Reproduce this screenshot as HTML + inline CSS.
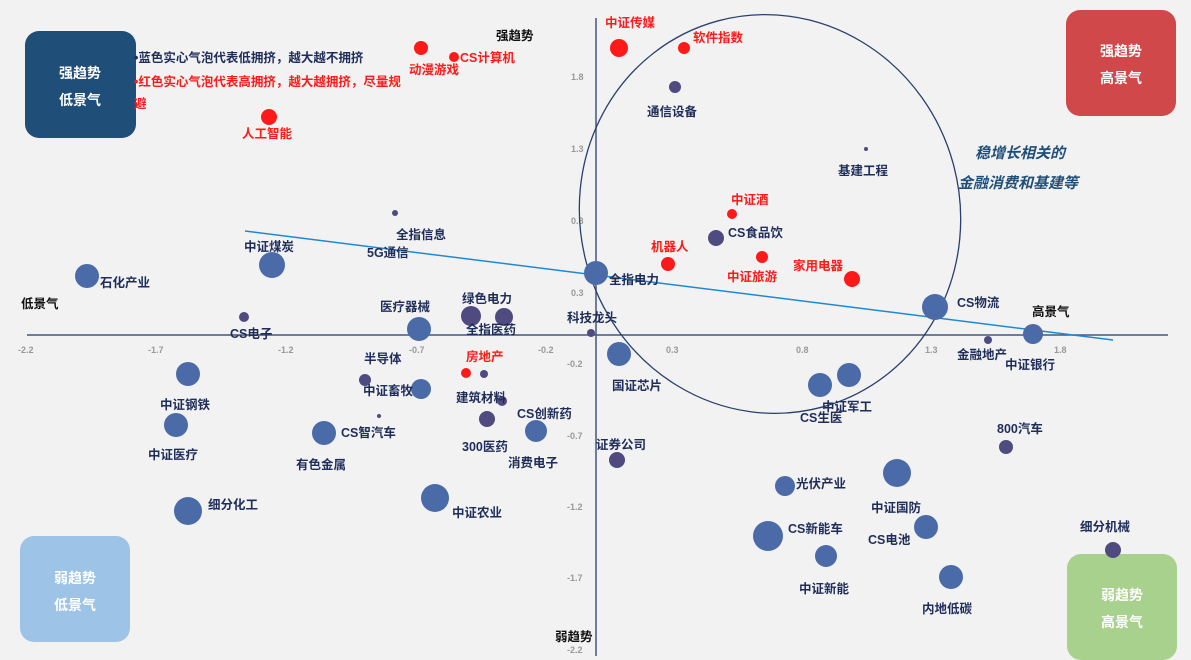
<!DOCTYPE html>
<html><head><meta charset="utf-8"><style>
html,body{margin:0;padding:0;background:#f2f2f2;}
svg{display:block;}
text{font-family:"Liberation Sans","Noto Sans CJK SC",sans-serif;font-weight:bold;}
.l{fill:#1f2d5a;font-size:12.5px;}
.r{fill:#ff1a1a;font-size:12.5px;}
.k{fill:#111;font-size:12.5px;}
.t{fill:#999;font-size:9px;font-weight:normal;}
.b{fill:#4a6aa8;}
.p{fill:#4f4a80;}
.d{fill:#ff1a1a;}
.bx{fill:#fff;font-size:14px;}
</style></head><body>
<svg width="1191" height="660" viewBox="0 0 1191 660" xmlns="http://www.w3.org/2000/svg">
<rect width="1191" height="660" fill="#f2f2f2"/>
<!-- axes -->
<line x1="27" y1="335" x2="1168" y2="335" stroke="#44557f" stroke-width="1.5"/>
<line x1="596" y1="18" x2="596" y2="656" stroke="#44557f" stroke-width="1.5"/>
<!-- ticks -->
<g class="t">
<text x="18" y="353">-2.2</text><text x="148" y="353">-1.7</text><text x="278" y="353">-1.2</text><text x="409" y="353">-0.7</text><text x="538" y="353">-0.2</text><text x="666" y="353">0.3</text><text x="796" y="353">0.8</text><text x="925" y="353">1.3</text><text x="1054" y="353">1.8</text>
<text x="571" y="80">1.8</text><text x="571" y="152">1.3</text><text x="571" y="224">0.8</text><text x="571" y="296">0.3</text><text x="567" y="367">-0.2</text><text x="567" y="439">-0.7</text><text x="567" y="510">-1.2</text><text x="567" y="581">-1.7</text><text x="567" y="653">-2.2</text>
</g>
<!-- ellipse -->
<ellipse cx="770" cy="214" rx="190" ry="200" fill="none" stroke="#2a3f6e" stroke-width="1.3" transform="rotate(-15 770 214)"/>
<!-- trend -->
<line x1="245" y1="231" x2="1113" y2="340" stroke="#1e88d0" stroke-width="1.5"/>
<!-- boxes -->
<rect x="25" y="31" width="111" height="107" rx="14" fill="#1f4e79"/>
<text class="bx" x="80" y="78" text-anchor="middle">强趋势</text><text class="bx" x="80" y="105" text-anchor="middle">低景气</text>
<rect x="1066" y="10" width="110" height="106" rx="14" fill="#d0484a"/>
<text class="bx" x="1121" y="56" text-anchor="middle">强趋势</text><text class="bx" x="1121" y="83" text-anchor="middle">高景气</text>
<rect x="20" y="536" width="110" height="106" rx="14" fill="#9dc3e6"/>
<text class="bx" x="75" y="583" text-anchor="middle">弱趋势</text><text class="bx" x="75" y="610" text-anchor="middle">低景气</text>
<rect x="1067" y="554" width="110" height="106" rx="14" fill="#a9d18e"/>
<text class="bx" x="1122" y="600" text-anchor="middle">弱趋势</text><text class="bx" x="1122" y="627" text-anchor="middle">高景气</text>
<!-- legend -->
<text class="l" x="134" y="62">•蓝色实心气泡代表低拥挤，越大越不拥挤</text>
<text class="r" x="134" y="86">•红色实心气泡代表高拥挤，越大越拥挤，尽量规</text>
<text class="r" x="134" y="108">避</text>
<text style="fill:#1f4e79;font-size:15px;font-style:italic" x="975" y="158">稳增长相关的</text>
<text style="fill:#1f4e79;font-size:15px;font-style:italic" x="958" y="188">金融消费和基建等</text>
<text class="k" x="496" y="40">强趋势</text>
<text class="k" x="21" y="308">低景气</text>
<text class="k" x="1032" y="316">高景气</text>
<text class="k" x="555" y="641">弱趋势</text>
<!-- bubbles -->
<circle class="d" cx="619" cy="48" r="9"/><text class="r" x="605" y="27">中证传媒</text>
<circle class="d" cx="684" cy="48" r="6"/><text class="r" x="693" y="42">软件指数</text>
<circle class="p" cx="675" cy="87" r="6"/><text class="l" x="647" y="116">通信设备</text>
<circle class="p" cx="866" cy="149" r="2"/><text class="l" x="838" y="175">基建工程</text>
<circle class="d" cx="732" cy="214" r="5"/><text class="r" x="731" y="204">中证酒</text>
<circle class="p" cx="716" cy="238" r="8"/><text class="l" x="728" y="237">CS食品饮</text>
<circle class="d" cx="668" cy="264" r="7"/><text class="r" x="651" y="251">机器人</text>
<circle class="d" cx="762" cy="257" r="6"/><text class="r" x="727" y="281">中证旅游</text>
<circle class="d" cx="852" cy="279" r="8"/><text class="r" x="793" y="270">家用电器</text>
<circle class="b" cx="596" cy="273" r="12"/><text class="l" x="609" y="284">全指电力</text>
<circle class="b" cx="935" cy="307" r="13"/><text class="l" x="957" y="307">CS物流</text>
<circle class="p" cx="988" cy="340" r="4"/><text class="l" x="957" y="359">金融地产</text>
<circle class="b" cx="1033" cy="334" r="10"/><text class="l" x="1005" y="369">中证银行</text>
<circle class="p" cx="591" cy="333" r="4"/><text class="l" x="567" y="322">科技龙头</text>
<circle class="b" cx="619" cy="354" r="12"/><text class="l" x="612" y="390">国证芯片</text>
<circle class="b" cx="849" cy="375" r="12"/><circle class="b" cx="820" cy="385" r="12"/>
<text class="l" x="822" y="411">中证军工</text><text class="l" x="800" y="422">CS生医</text>
<circle class="p" cx="617" cy="460" r="8"/><text class="l" x="596" y="449">证券公司</text>
<circle class="p" cx="1006" cy="447" r="7"/><text class="l" x="997" y="433">800汽车</text>
<circle class="b" cx="785" cy="486" r="10"/><text class="l" x="796" y="488">光伏产业</text>
<circle class="b" cx="897" cy="473" r="14"/><text class="l" x="871" y="512">中证国防</text>
<circle class="b" cx="768" cy="536" r="15"/><text class="l" x="788" y="533">CS新能车</text>
<circle class="b" cx="926" cy="527" r="12"/><text class="l" x="868" y="544">CS电池</text>
<circle class="b" cx="826" cy="556" r="11"/><text class="l" x="799" y="593">中证新能</text>
<circle class="b" cx="951" cy="577" r="12"/><text class="l" x="922" y="613">内地低碳</text>
<circle class="p" cx="1113" cy="550" r="8"/><text class="l" x="1080" y="531">细分机械</text>
<circle class="d" cx="421" cy="48" r="7"/><text class="r" x="409" y="74">动漫游戏</text>
<circle class="d" cx="454" cy="57" r="5"/><text class="r" x="460" y="62">CS计算机</text>
<circle class="d" cx="269" cy="117" r="8"/><text class="r" x="242" y="138">人工智能</text>
<circle class="p" cx="395" cy="213" r="3"/><text class="l" x="396" y="239">全指信息</text>
<text class="l" x="367" y="257">5G通信</text>
<circle class="b" cx="272" cy="265" r="13"/><text class="l" x="244" y="251">中证煤炭</text>
<circle class="b" cx="87" cy="276" r="12"/><text class="l" x="100" y="287">石化产业</text>
<circle class="p" cx="244" cy="317" r="5"/><text class="l" x="230" y="338">CS电子</text>
<circle class="b" cx="419" cy="329" r="12"/><text class="l" x="380" y="311">医疗器械</text>
<circle class="p" cx="471" cy="316" r="10"/><circle class="p" cx="504" cy="317" r="9"/>
<text class="l" x="462" y="303">绿色电力</text><text class="l" x="466" y="334">全指医药</text>
<circle class="p" cx="365" cy="380" r="6"/><text class="l" x="364" y="363">半导体</text>
<circle class="b" cx="421" cy="389" r="10"/><text class="l" x="363" y="395">中证畜牧</text>
<circle class="d" cx="466" cy="373" r="5"/><circle class="p" cx="484" cy="374" r="4"/><text class="r" x="466" y="361">房地产</text>
<circle class="p" cx="502" cy="401" r="5"/><text class="l" x="456" y="402">建筑材料</text>
<text class="l" x="517" y="418">CS创新药</text>
<circle class="p" cx="487" cy="419" r="8"/><text class="l" x="462" y="451">300医药</text>
<circle class="b" cx="536" cy="431" r="11"/><text class="l" x="508" y="467">消费电子</text>
<circle class="p" cx="379" cy="416" r="2"/>
<circle class="b" cx="324" cy="433" r="12"/><text class="l" x="341" y="437">CS智汽车</text><text class="l" x="296" y="469">有色金属</text>
<circle class="b" cx="188" cy="374" r="12"/><text class="l" x="160" y="409">中证钢铁</text>
<circle class="b" cx="176" cy="425" r="12"/><text class="l" x="148" y="459">中证医疗</text>
<circle class="b" cx="188" cy="511" r="14"/><text class="l" x="208" y="509">细分化工</text>
<circle class="b" cx="435" cy="498" r="14"/><text class="l" x="452" y="517">中证农业</text>
</svg>
</body></html>
